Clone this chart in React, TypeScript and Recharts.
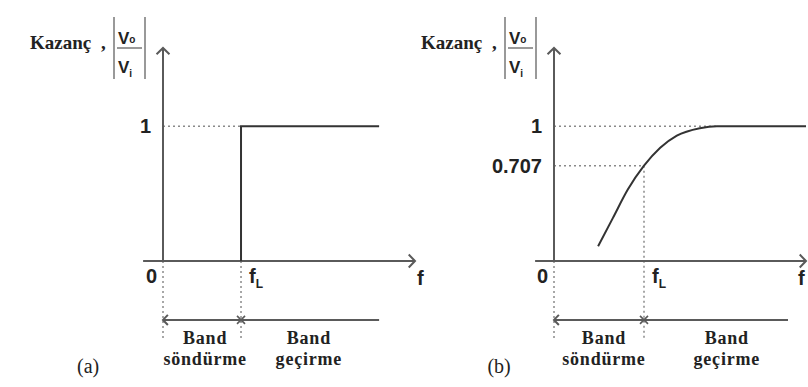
import React from 'react';
import { LineChart, Line, XAxis, YAxis, ReferenceLine, ReferenceDot } from 'recharts';

// cutoff frequency position (arbitrary frequency units)
const FL = 2;

// (a) ideal high-pass response
const idealFreq = [2, 2, 5.54];
const idealGain = [0, 1, 1];

// (b) real high-pass response
const realFreq = [0.98, 1.31, 1.64, 2.0, 2.36, 2.73, 3.24, 3.62, 5.6];
const realGain = [0.11, 0.32, 0.53, 0.707, 0.84, 0.93, 0.985, 1, 1];

const gainTicksA = [1];
const gainTicksB = [0.707, 1];
const bandStop = ['Band', 'söndürme'];
const bandPass = ['Band', 'geçirme'];

const SERIF = '"Liberation Serif", "Times New Roman", serif';
const SANS = '"Liberation Sans", Arial, sans-serif';
const AXIS = '#5a5a5a';
const INK = '#222';
const Y_TOP = 1.58;
const BELOW = -0.585;
const BAND_Y = -0.437;

const arrowHead = (tx: number, ty: number, fx: number, fy: number, size: number) => {
  const ang = Math.atan2(ty - fy, tx - fx);
  const a1 = ang + Math.PI - 0.8;
  const a2 = ang + Math.PI + 0.8;
  return `M${tx + size * Math.cos(a1)},${ty + size * Math.sin(a1)} L${tx},${ty} L${tx + size * Math.cos(a2)},${ty + size * Math.sin(a2)}`;
};

const ArrowLine = (props: any) => {
  const { x1, y1, x2, y2, start, end, size = 9 } = props;
  return (
    <g>
      <line x1={x1} y1={y1} x2={x2} y2={y2} stroke={AXIS} strokeWidth={2} />
      {end && <path d={arrowHead(x2, y2, x1, y1, size)} fill="none" stroke={AXIS} strokeWidth={2} />}
      {start && <path d={arrowHead(x1, y1, x2, y2, size)} fill="none" stroke={AXIS} strokeWidth={2} />}
    </g>
  );
};

const Cross = ({ cx, cy }: any) => (
  <path d={`M${cx - 4},${cy - 4} L${cx + 4},${cy + 4} M${cx - 4},${cy + 4} L${cx + 4},${cy - 4}`} stroke={AXIS} strokeWidth={1.6} />
);

const GainTitle = ({ cx, cy }: any) => (
  <g fill={INK}>
    <text x={cx - 133} y={cy + 1} fontFamily={SERIF} fontWeight={700} fontSize={19}>Kazanç</text>
    <text x={cx - 62} y={cy + 1} fontFamily={SERIF} fontWeight={700} fontSize={19}>,</text>
    <line x1={cx - 49} y1={cy - 31} x2={cx - 49} y2={cy + 31} stroke="#777" strokeWidth={1.5} />
    <line x1={cx - 18} y1={cy - 31} x2={cx - 18} y2={cy + 31} stroke="#777" strokeWidth={1.5} />
    <line x1={cx - 46} y1={cy} x2={cx - 21} y2={cy} stroke="#777" strokeWidth={1.5} />
    <text x={cx - 45} y={cy - 4} fontFamily={SANS} fontWeight={700} fontSize={17}>
      V<tspan fontSize={10} dy={-1}>o</tspan>
    </text>
    <text x={cx - 45} y={cy + 25} fontFamily={SANS} fontWeight={700} fontSize={17}>
      V<tspan fontSize={10} dy={4}>i</tspan>
    </text>
  </g>
);

const bandLabel = (lines: string[]) => ({ cx, cy }: any) => (
  <text textAnchor="middle" fontFamily={SERIF} fontWeight={700} fontSize={18} letterSpacing={0.8} fill={INK}>
    <tspan x={cx} y={cy}>{lines[0]}</tspan>
    <tspan x={cx} y={cy + 21}>{lines[1]}</tspan>
  </text>
);

const tagLabel = (tag: string) => ({ cx, cy }: any) => (
  <text x={cx} y={cy} textAnchor="middle" fontFamily={SERIF} fontSize={20} fill={INK}>{tag}</text>
);

const freqTick = (maxX: number) => ({ x, y, payload }: any) => {
  const v = payload.value;
  const style = { fontFamily: SANS, fontWeight: 700, fontSize: 20, fill: INK };
  if (v === 0) return <text x={x - 6} y={y + 22} textAnchor="end" {...style}>0</text>;
  if (v === FL)
    return (
      <text x={x + 8} y={y + 22} {...style}>
        f<tspan fontSize={12} dy={5}>L</tspan>
      </text>
    );
  return <text x={Math.min(x + 2, maxX)} y={y + 24} {...style}>f</text>;
};

type Guide = [number, number, number, number];

interface PanelProps {
  left: number;
  width: number;
  marginLeft: number;
  marginRight: number;
  xMax: number;
  axisStart: number;
  bandEnd: number;
  freq: number[];
  gain: number[];
  curve: 'linear' | 'monotone';
  gainTicks: number[];
  guides: Guide[];
  labelX: number[];
  tag: string;
  tagX: number;
}

const Panel: React.FC<PanelProps> = (p) => {
  const data = p.freq.map((f, i) => ({ f, gain: p.gain[i] }));
  return (
    <div style={{ position: 'absolute', left: p.left, top: 0 }}>
      <LineChart
        width={p.width}
        height={387}
        data={data}
        margin={{ top: 48, right: p.marginRight, left: p.marginLeft, bottom: 96 }}
      >
        <XAxis
          dataKey="f"
          type="number"
          domain={[0, p.xMax]}
          ticks={[0, FL, p.xMax]}
          interval={0}
          axisLine={false}
          tickLine={false}
          tickSize={0}
          tickMargin={0}
          height={30}
          tick={freqTick(p.width - 10)}
        />
        <YAxis
          type="number"
          domain={[0, Y_TOP]}
          ticks={p.gainTicks}
          interval={0}
          axisLine={false}
          tickLine={false}
          tickSize={0}
          tickMargin={12}
          width={50}
          tick={{ fill: INK, fontSize: 20, fontWeight: 700, fontFamily: SANS }}
        />
        {p.guides.map((g, i) => (
          <ReferenceLine
            key={i}
            segment={[{ x: g[0], y: g[1] }, { x: g[2], y: g[3] }]}
            stroke="#8a8a8a"
            strokeWidth={1.5}
            strokeDasharray="2 3"
            ifOverflow="visible"
          />
        ))}
        <ReferenceLine
          segment={[{ x: p.axisStart, y: 0 }, { x: p.xMax, y: 0 }]}
          ifOverflow="visible"
          shape={(s: any) => <ArrowLine {...s} end />}
        />
        <ReferenceLine
          segment={[{ x: 0, y: 0 }, { x: 0, y: Y_TOP }]}
          ifOverflow="visible"
          shape={(s: any) => <ArrowLine {...s} end />}
        />
        <ReferenceLine
          segment={[{ x: 0, y: BAND_Y }, { x: p.bandEnd, y: BAND_Y }]}
          ifOverflow="visible"
          shape={(s: any) => <ArrowLine {...s} start size={7} />}
        />
        <ReferenceDot x={FL} y={BAND_Y} r={0} ifOverflow="visible" shape={Cross} />
        <ReferenceDot x={0} y={Y_TOP} r={0} ifOverflow="visible" shape={GainTitle} />
        <ReferenceDot x={p.labelX[0]} y={-0.615} r={0} ifOverflow="visible" shape={bandLabel(bandStop)} />
        <ReferenceDot x={p.labelX[1]} y={-0.615} r={0} ifOverflow="visible" shape={bandLabel(bandPass)} />
        <ReferenceDot x={p.tagX} y={-0.83} r={0} ifOverflow="visible" shape={tagLabel(p.tag)} />
        <Line
          dataKey="gain"
          type={p.curve}
          stroke="#333"
          strokeWidth={2}
          dot={false}
          isAnimationActive={false}
        />
      </LineChart>
    </div>
  );
};

export default function App() {
  return (
    <div style={{ position: 'absolute', left: 0, top: 0, width: 808, height: 387, background: '#fff', overflow: 'hidden' }}>
      <Panel
        left={0}
        width={430}
        marginLeft={113}
        marginRight={15}
        xMax={6.46}
        axisStart={-0.51}
        bandEnd={5.54}
        freq={idealFreq}
        gain={idealGain}
        curve="linear"
        gainTicks={gainTicksA}
        guides={[
          [0, 1, FL, 1],
          [0, 0, 0, BELOW],
          [FL, 0, FL, BELOW],
        ]}
        labelX={[1.08, 3.74]}
        tag="(a)"
        tagX={-1.92}
      />
      <Panel
        left={420}
        width={388}
        marginLeft={84}
        marginRight={2}
        xMax={5.6}
        axisStart={-0.42}
        bandEnd={5.2}
        freq={realFreq}
        gain={realGain}
        curve="monotone"
        gainTicks={gainTicksB}
        guides={[
          [0, 1, 3.62, 1],
          [0, 0.707, FL, 0.707],
          [0, 0, 0, BELOW],
          [FL, 0.707, FL, BELOW],
        ]}
        labelX={[1.11, 3.84]}
        tag="(b)"
        tagX={-1.22}
      />
    </div>
  );
}
